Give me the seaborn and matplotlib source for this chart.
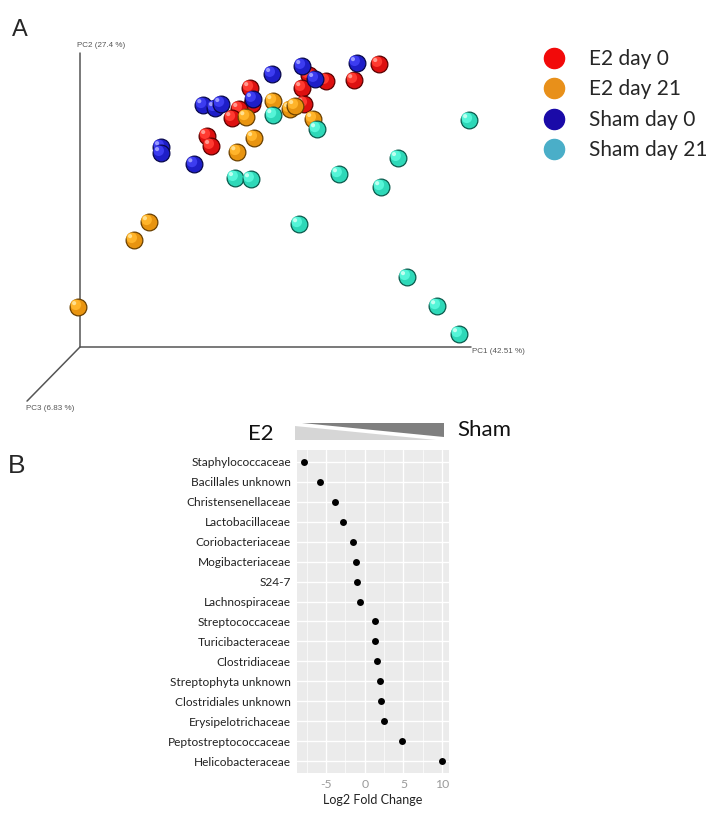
import numpy as np
import pandas as pd
import matplotlib
matplotlib.use("Agg")
import matplotlib.pyplot as plt
from matplotlib.transforms import ScaledTranslation
from matplotlib.lines import Line2D
from matplotlib.patches import Polygon
import seaborn as sns

# ---------------- Panel A data: projected PCoA coordinates (fraction of axis) ----------------
e2_d0_pc1 = [0.765, 0.701, 0.629, 0.586, 0.568, 0.435, 0.440, 0.407, 0.389, 0.573, 0.325, 0.335]
e2_d0_pc2 = [0.963, 0.908, 0.905, 0.925, 0.881, 0.881, 0.827, 0.810, 0.779, 0.827, 0.718, 0.684]
e2_d21_pc1 = [0.494, 0.537, 0.550, 0.425, 0.596, 0.445, 0.402, 0.176, 0.138, -0.005]
e2_d21_pc2 = [0.837, 0.810, 0.820, 0.782, 0.776, 0.711, 0.663, 0.425, 0.364, 0.136]
sham_d21_pc1 = [0.494, 0.606, 0.995, 0.813, 0.662, 0.770, 0.396, 0.437, 0.560, 0.836, 0.913, 0.969]
sham_d21_pc2 = [0.789, 0.741, 0.772, 0.643, 0.588, 0.544, 0.575, 0.571, 0.418, 0.238, 0.139, 0.044]
sham_d0_pc1 = [0.315, 0.345, 0.361, 0.491, 0.568, 0.601, 0.708, 0.442, 0.207, 0.207, 0.292]
sham_d0_pc2 = [0.823, 0.813, 0.827, 0.929, 0.956, 0.912, 0.966, 0.844, 0.680, 0.660, 0.622]

group_names = ["E2 day 0", "E2 day 21", "Sham day 0", "Sham day 21"]
axis_labels = ["PC1 (42.51 %)", "PC2 (27.4 %)", "PC3 (6.83 %)"]

# ---------------- Panel B data ----------------
families = ["Staphylococcaceae", "Bacillales unknown", "Christensenellaceae", "Lactobacillaceae",
            "Coriobacteriaceae", "Mogibacteriaceae", "S24-7", "Lachnospiraceae",
            "Streptococcaceae", "Turicibacteraceae", "Clostridiaceae", "Streptophyta unknown",
            "Clostridiales unknown", "Erysipelotrichaceae", "Peptostreptococcaceae", "Helicobacteraceae"]
log2fc = [-7.87, -5.74, -3.79, -2.77, -1.57, -1.15, -1.02, -0.64,
          1.32, 1.36, 1.62, 1.91, 2.09, 2.43, 4.81, 10.0]
x_ticks = [-5, 0, 5, 10]

W, H = 721, 819
DPI = 100
fig = plt.figure(figsize=(W / DPI, H / DPI), dpi=DPI)
sns.set_style("white")
plt.rcParams['font.family'] = ['Lato', 'DejaVu Sans']
plt.rcParams['axes.unicode_minus'] = False

def fr(l, t, r, b):
    return [l / W, 1 - b / H, (r - l) / W, (b - t) / H]

# ---------------- Panel A ----------------
axA = fig.add_axes(fr(80, 53, 471, 347))
axA.set_xlim(0, 1)
axA.set_ylim(0, 1)
axA.axis("off")

line_kw = dict(color="#555555", lw=1.1, transform=axA.transAxes, clip_on=False, zorder=1)
axA.plot([0, 0], [0, 1], **line_kw)
axA.plot([0, 1], [0, 0], **line_kw)
axA.plot([0, -0.1355], [0, -0.184], **line_kw)
small = dict(fontsize=5.8, color="#555555", family=["Liberation Sans", "DejaVu Sans"])
axA.text(-0.008, 1.012, axis_labels[1], transform=axA.transAxes, ha="left", va="bottom", **small)
axA.text(1.003, -0.005, axis_labels[0], transform=axA.transAxes, ha="left", va="top", **small)
axA.text(-0.137, -0.198, axis_labels[2], transform=axA.transAxes, ha="left", va="top", **small)

pts = pd.concat([
    pd.DataFrame({"pc1": e2_d0_pc1, "pc2": e2_d0_pc2, "group": group_names[0]}),
    pd.DataFrame({"pc1": e2_d21_pc1, "pc2": e2_d21_pc2, "group": group_names[1]}),
    pd.DataFrame({"pc1": sham_d21_pc1, "pc2": sham_d21_pc2, "group": group_names[3]}),
    pd.DataFrame({"pc1": sham_d0_pc1, "pc2": sham_d0_pc2, "group": group_names[2]}),
], ignore_index=True)

base_col = {"E2 day 0": "#dd1010", "E2 day 21": "#e89410", "Sham day 0": "#1e1ec8", "Sham day 21": "#2ed8b8"}
edge_col = {"E2 day 0": "#5a0000", "E2 day 21": "#6a4000", "Sham day 0": "#08084a", "Sham day 21": "#0a5a4c"}
mid_col = {"E2 day 0": "#ff3a30", "E2 day 21": "#ffb42a", "Sham day 0": "#3c3cf0", "Sham day 21": "#55f5d8"}
hi_col = {"E2 day 0": "#ff9a90", "E2 day 21": "#ffe090", "Sham day 0": "#9a9aff", "Sham day 21": "#c0fff0"}

z = 3
for g in ["E2 day 0", "E2 day 21", "Sham day 21", "Sham day 0"]:
    sub = pts[pts.group == g]
    for _, row in sub.iterrows():
        one = pd.DataFrame([row])
        sns.scatterplot(data=one, x="pc1", y="pc2", ax=axA, s=145, color=base_col[g],
                        edgecolor=edge_col[g], linewidth=0.9, legend=False, clip_on=False, zorder=z)
        sns.scatterplot(data=one, x="pc1", y="pc2", ax=axA, s=58, color=mid_col[g],
                        edgecolor="none", linewidth=0, legend=False, clip_on=False, zorder=z + 0.1,
                        transform=axA.transData + ScaledTranslation(-1.6 / 72, 1.6 / 72, fig.dpi_scale_trans))
        sns.scatterplot(data=one, x="pc1", y="pc2", ax=axA, s=9, color=hi_col[g],
                        edgecolor="none", linewidth=0, legend=False, clip_on=False, zorder=z + 0.2,
                        transform=axA.transData + ScaledTranslation(-2.8 / 72, 2.8 / 72, fig.dpi_scale_trans))
        z += 0.3
axA.set_xlabel("")
axA.set_ylabel("")

legend_colors = ["#f20a0a", "#e8901a", "#1a0aa8", "#4aaec8"]
handles = [Line2D([0], [0], marker="o", linestyle="none", markersize=14.5,
                  markerfacecolor=c, markeredgecolor=c) for c in legend_colors]
fig.legend(handles, group_names, loc="upper left", bbox_to_anchor=(541 / W, 1 - 49 / H),
           frameon=False, fontsize=15, handlelength=1.2, handletextpad=1.1,
           labelspacing=0.5, borderpad=0, borderaxespad=0)

fig.text(12 / W, 1 - 36 / H, "A", fontsize=17, ha="left", va="baseline",
         family=["Liberation Sans", "DejaVu Sans"])
fig.text(8 / W, 1 - 473 / H, "B", fontsize=19, ha="left", va="baseline",
         family=["Liberation Sans", "DejaVu Sans"])

# ---------------- Panel B ----------------
axB = fig.add_axes(fr(297, 450, 449, 773))
axB.set_facecolor("#EBEBEB")
dfB = pd.DataFrame({"family": families, "lfc": log2fc})
sns.stripplot(data=dfB, x="lfc", y="family", order=families, jitter=False, color="black",
              size=5, ax=axB, zorder=5)
axB.set_xlim(-8.76, 10.89)
axB.set_ylim(len(families) - 0.4, -0.6)
axB.set_xticks(x_ticks)
axB.set_xticks([-7.5, -2.5, 2.5, 7.5], minor=True)
axB.grid(True, which="major", color="white", lw=1.0)
axB.grid(True, which="minor", axis="x", color="white", lw=0.5)
axB.set_axisbelow(True)
for s in axB.spines.values():
    s.set_visible(False)
axB.tick_params(axis="y", length=2.5, color="#666666", labelsize=8.6, labelcolor="#222222", pad=2)
axB.tick_params(axis="x", which="major", length=2.5, color="#999999", labelsize=8.8,
                labelcolor="#9a9a9a", pad=2)
axB.tick_params(axis="x", which="minor", length=0)
axB.set_ylabel("")
axB.set_xlabel("Log2 Fold Change", fontsize=9, color="#222222", labelpad=3)

# header: E2  <wedge>  Sham
fig.text(248 / W, 1 - 440 / H, "E2", fontsize=16, ha="left", va="baseline", color="#111111")
fig.text(457 / W, 1 - 436 / H, "Sham", fontsize=16, ha="left", va="baseline", color="#111111")
hdr = fig.add_axes([0, 0, 1, 1], zorder=-1)
hdr.set_xlim(0, W)
hdr.set_ylim(H, 0)
hdr.axis("off")
hdr.add_patch(Polygon([(295, 426), (295, 440), (436, 440)], closed=True, facecolor="#d6d6d6", edgecolor="none"))
hdr.add_patch(Polygon([(302, 423), (444, 423), (444, 437)], closed=True, facecolor="#7f7f7f", edgecolor="none"))

fig.savefig("out.png", dpi=DPI)
